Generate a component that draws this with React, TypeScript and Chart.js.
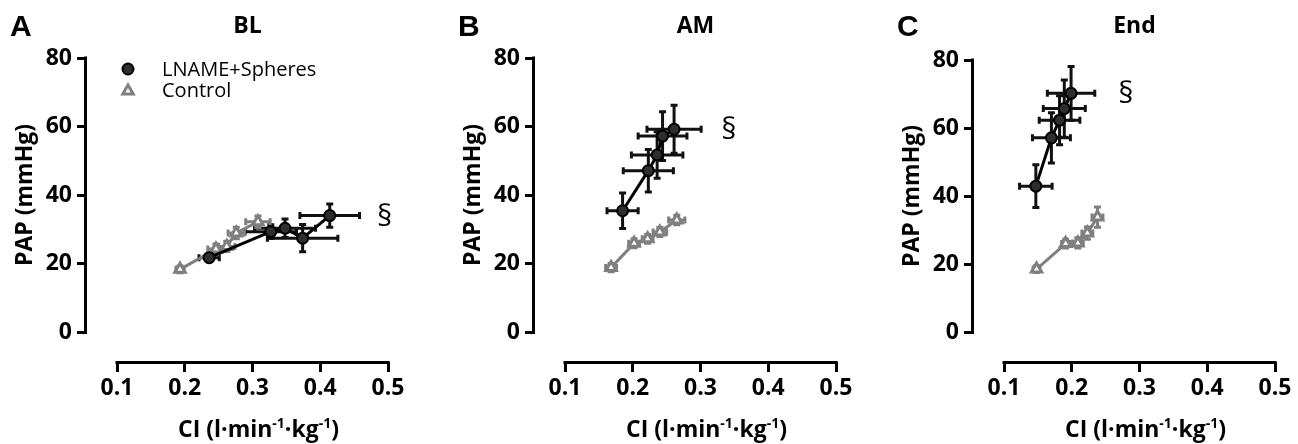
import React, { useEffect, useRef } from 'react';
import { Chart, registerables } from 'chart.js';

Chart.register(...registerables);

// ---------- data ----------
const X_TICKS = [0.1, 0.2, 0.3, 0.4, 0.5];
const Y_TICKS = [0, 20, 40, 60, 80];

const PANEL_LETTERS = ['A', 'B', 'C'];
const PANEL_TITLES = ['BL', 'AM', 'End'];
const SERIES_NAMES = ['LNAME+Spheres', 'Control'];
const SIG_MARK = '§';
const Y_TITLE = 'PAP (mmHg)';
const X_TITLE_PARTS = [
  { t: 'CI (l·min', sup: false },
  { t: '-1', sup: true },
  { t: '·kg', sup: false },
  { t: '-1', sup: true },
  { t: ')', sup: false },
];

// BL
const BL_LNAME_CI = [0.236, 0.327, 0.348, 0.374, 0.414];
const BL_LNAME_CI_ERR = [0.015, 0.038, 0.045, 0.052, 0.044];
const BL_LNAME_PAP = [21.7, 29.3, 30.3, 27.4, 34.0];
const BL_LNAME_PAP_ERR = [1.0, 2.0, 2.7, 4.0, 3.4];
const BL_CTRL_CI = [0.193, 0.246, 0.262, 0.276, 0.308];
const BL_CTRL_CI_ERR = [0.006, 0.012, 0.012, 0.012, 0.018];
const BL_CTRL_PAP = [18.3, 24.2, 25.0, 28.9, 32.2];
const BL_CTRL_PAP_ERR = [1.0, 1.5, 1.5, 1.7, 1.7];

// AM
const AM_LNAME_CI = [0.185, 0.223, 0.236, 0.244, 0.261];
const AM_LNAME_CI_ERR = [0.023, 0.037, 0.038, 0.036, 0.040];
const AM_LNAME_PAP = [35.4, 47.1, 51.7, 57.2, 59.2];
const AM_LNAME_PAP_ERR = [5.2, 6.2, 6.8, 7.1, 7.0];
const AM_CTRL_CI = [0.168, 0.202, 0.222, 0.240, 0.265];
const AM_CTRL_CI_ERR = [0.008, 0.008, 0.008, 0.010, 0.012];
const AM_CTRL_PAP = [18.8, 25.9, 27.2, 29.2, 32.7];
const AM_CTRL_PAP_ERR = [1.2, 1.3, 1.3, 1.3, 1.4];

// End
const END_LNAME_CI = [0.147, 0.170, 0.182, 0.189, 0.199];
const END_LNAME_CI_ERR = [0.024, 0.028, 0.030, 0.031, 0.035];
const END_LNAME_PAP = [42.9, 57.1, 62.3, 65.7, 70.2];
const END_LNAME_PAP_ERR = [6.3, 7.4, 7.2, 8.4, 7.9];
const END_CTRL_CI = [0.148, 0.191, 0.209, 0.223, 0.238];
const END_CTRL_CI_ERR = [0.005, 0.006, 0.008, 0.008, 0.008];
const END_CTRL_PAP = [18.5, 26.0, 26.2, 29.1, 33.8];
const END_CTRL_PAP_ERR = [1.0, 1.3, 1.5, 1.8, 3.0];

// ---------- layout / style ----------
const FONT = "'Open Sans', 'DejaVu Sans', sans-serif";
const H = 444;
const Y_AXIS_X = 87; // y-axis line x inside each canvas
const X_START_GAP = 30; // gap between y-axis line and first x tick
const PLOT_W = 301; // y-axis line -> last x tick
const X_AXIS_Y = 362;
const ZERO_Y = 332;
const BLACK = '#000000';
const DARK_FILL = '#2e2e2e';
const GREY = '#7f7f7f';

type Panel = {
  idx: number;
  left: number;
  width: number;
  top: number;
  legend: boolean;
  ln: { ci: number[]; ciErr: number[]; pap: number[]; papErr: number[] };
  ct: { ci: number[]; ciErr: number[]; pap: number[]; papErr: number[] };
};

const PANELS: Panel[] = [
  {
    idx: 0, left: 0, width: 440, top: 58, legend: true,
    ln: { ci: BL_LNAME_CI, ciErr: BL_LNAME_CI_ERR, pap: BL_LNAME_PAP, papErr: BL_LNAME_PAP_ERR },
    ct: { ci: BL_CTRL_CI, ciErr: BL_CTRL_CI_ERR, pap: BL_CTRL_PAP, papErr: BL_CTRL_PAP_ERR },
  },
  {
    idx: 1, left: 448, width: 440, top: 58, legend: false,
    ln: { ci: AM_LNAME_CI, ciErr: AM_LNAME_CI_ERR, pap: AM_LNAME_PAP, papErr: AM_LNAME_PAP_ERR },
    ct: { ci: AM_CTRL_CI, ciErr: AM_CTRL_CI_ERR, pap: AM_CTRL_PAP, papErr: AM_CTRL_PAP_ERR },
  },
  {
    idx: 2, left: 887, width: 411, top: 60, legend: false,
    ln: { ci: END_LNAME_CI, ciErr: END_LNAME_CI_ERR, pap: END_LNAME_PAP, papErr: END_LNAME_PAP_ERR },
    ct: { ci: END_CTRL_CI, ciErr: END_CTRL_CI_ERR, pap: END_CTRL_PAP, papErr: END_CTRL_PAP_ERR },
  },
];

const zip = (xs: number[], ys: number[]) => xs.map((x, i) => ({ x, y: ys[i] }));

// ---------- plugins ----------
const errorBarPlugin = {
  id: 'errorBars',
  beforeDatasetsDraw(chart: any) {
    const { ctx } = chart;
    const xs = chart.scales.x;
    const ys = chart.scales.y;
    chart.data.datasets.forEach((ds: any) => {
      if (!ds.xErr) return;
      ctx.save();
      ctx.strokeStyle = ds.errorColor;
      ctx.lineWidth = ds.errorWidth;
      ctx.lineCap = 'butt';
      const c = ds.errorCap;
      ds.data.forEach((pt: any, j: number) => {
        const cx = xs.getPixelForValue(pt.x);
        const cy = ys.getPixelForValue(pt.y);
        const x0 = xs.getPixelForValue(pt.x - ds.xErr[j]);
        const x1 = xs.getPixelForValue(pt.x + ds.xErr[j]);
        const y0 = ys.getPixelForValue(pt.y - ds.yErr[j]);
        const y1 = ys.getPixelForValue(pt.y + ds.yErr[j]);
        ctx.beginPath();
        ctx.moveTo(x0, cy); ctx.lineTo(x1, cy);
        ctx.moveTo(x0, cy - c); ctx.lineTo(x0, cy + c);
        ctx.moveTo(x1, cy - c); ctx.lineTo(x1, cy + c);
        ctx.moveTo(cx, y0); ctx.lineTo(cx, y1);
        ctx.moveTo(cx - c, y0); ctx.lineTo(cx + c, y0);
        ctx.moveTo(cx - c, y1); ctx.lineTo(cx + c, y1);
        ctx.stroke();
      });
      ctx.restore();
    });
  },
};

const decorPlugin = {
  id: 'decor',
  afterDraw(chart: any, _args: any, o: any) {
    const { ctx, chartArea } = chart;
    const xs = chart.scales.x;
    const ys = chart.scales.y;
    const xa = xs.getPixelForValue(X_TICKS[0]);
    const xb = xs.getPixelForValue(X_TICKS[X_TICKS.length - 1]);
    const ya = ys.getPixelForValue(Y_TICKS[0]);
    const yb = ys.getPixelForValue(Y_TICKS[Y_TICKS.length - 1]);
    const axX = chartArea.left;
    const axY = chartArea.bottom;

    ctx.save();
    // detached axis lines
    ctx.strokeStyle = BLACK;
    ctx.lineWidth = 3;
    ctx.lineCap = 'square';
    ctx.beginPath();
    ctx.moveTo(xa, axY + 0.5); ctx.lineTo(xb, axY + 0.5);
    ctx.moveTo(axX - 1.5, ya); ctx.lineTo(axX - 1.5, yb);
    ctx.stroke();

    ctx.fillStyle = BLACK;
    ctx.textAlign = 'left';
    ctx.textBaseline = 'alphabetic';

    // panel letter
    ctx.font = `bold 30px 'Liberation Sans', Arial, sans-serif`;
    ctx.fillText(o.letter, axX - 77, 36);

    // panel title
    ctx.font = `bold 23px ${FONT}`;
    ctx.textAlign = 'center';
    ctx.fillText(o.title, (xa + xb) / 2 - 5, 33);

    // y title
    ctx.save();
    ctx.translate(axX - 55, (ya + yb) / 2);
    ctx.rotate(-Math.PI / 2);
    ctx.font = `bold 23px ${FONT}`;
    ctx.textAlign = 'center';
    ctx.fillText(Y_TITLE, 0, 0);
    ctx.restore();

    // x title with superscripts
    const base = `bold 23px ${FONT}`;
    const sup = `bold 14px ${FONT}`;
    let total = 0;
    X_TITLE_PARTS.forEach((p) => {
      ctx.font = p.sup ? sup : base;
      total += ctx.measureText(p.t).width;
    });
    let cx = (xa + xb) / 2 + 6 - total / 2;
    ctx.textAlign = 'left';
    X_TITLE_PARTS.forEach((p) => {
      ctx.font = p.sup ? sup : base;
      ctx.fillText(p.t, cx, p.sup ? 428 : 437);
      cx += ctx.measureText(p.t).width;
    });

    // significance mark next to the last LNAME point
    const ln = chart.data.datasets[0].data;
    const last = ln[ln.length - 1];
    ctx.font = `30px ${FONT}`;
    ctx.textAlign = 'center';
    ctx.fillText(SIG_MARK, xs.getPixelForValue(last.x) + 55, ys.getPixelForValue(last.y) + 10);

    // legend
    if (o.legend) {
      const ds = chart.data.datasets;
      const mx = axX + 41;
      const rows = [69, 90];
      // circle
      ctx.beginPath();
      ctx.arc(mx, rows[0], ds[0].pointRadius, 0, Math.PI * 2);
      ctx.fillStyle = ds[0].pointBackgroundColor;
      ctx.fill();
      ctx.lineWidth = ds[0].pointBorderWidth;
      ctx.strokeStyle = ds[0].pointBorderColor;
      ctx.stroke();
      // triangle
      const r = ds[1].pointRadius;
      ctx.beginPath();
      for (let k = 0; k < 3; k++) {
        const a = (k * 2 * Math.PI) / 3;
        const px = mx + Math.sin(a) * r;
        const py = rows[1] + 1 - Math.cos(a) * r;
        if (k === 0) ctx.moveTo(px, py); else ctx.lineTo(px, py);
      }
      ctx.closePath();
      ctx.fillStyle = ds[1].pointBackgroundColor;
      ctx.fill();
      ctx.lineWidth = ds[1].pointBorderWidth;
      ctx.strokeStyle = ds[1].pointBorderColor;
      ctx.lineJoin = 'miter';
      ctx.stroke();

      ctx.fillStyle = BLACK;
      ctx.font = `20px ${FONT}`;
      ctx.textAlign = 'left';
      ctx.fillText(ds[0].label, axX + 75, rows[0] + 7);
      ctx.fillText(ds[1].label, axX + 75, rows[1] + 7);
    }
    ctx.restore();
  },
};

function makeConfig(p: Panel): any {
  const x0 = X_TICKS[0];
  const x1 = X_TICKS[X_TICKS.length - 1];
  const xPerPx = (x1 - x0) / (PLOT_W - X_START_GAP);
  const xMin = x0 - X_START_GAP * xPerPx;
  const y1 = Y_TICKS[Y_TICKS.length - 1];
  const yPerPx = y1 / (ZERO_Y - p.top);
  const yMin = Y_TICKS[0] - (X_AXIS_Y - ZERO_Y) * yPerPx;

  const tickFont = { family: FONT, size: 23, weight: 'bold' as const };
  return {
    type: 'scatter',
    data: {
      datasets: [
        {
          label: SERIES_NAMES[0],
          data: zip(p.ln.ci, p.ln.pap),
          xErr: p.ln.ciErr,
          yErr: p.ln.papErr,
          errorColor: '#111111',
          errorWidth: 3,
          errorCap: 3.5,
          showLine: true,
          borderColor: BLACK,
          borderWidth: 3,
          backgroundColor: DARK_FILL,
          pointStyle: 'circle',
          pointRadius: 5.5,
          pointBorderWidth: 2,
          pointBorderColor: BLACK,
          pointBackgroundColor: DARK_FILL,
        },
        {
          label: SERIES_NAMES[1],
          data: zip(p.ct.ci, p.ct.pap),
          xErr: p.ct.ciErr,
          yErr: p.ct.papErr,
          errorColor: GREY,
          errorWidth: 3,
          errorCap: 3.5,
          showLine: true,
          borderColor: GREY,
          borderWidth: 3,
          backgroundColor: '#ffffff',
          pointStyle: 'triangle',
          pointRadius: 6,
          pointBorderWidth: 3,
          pointBorderColor: GREY,
          pointBackgroundColor: '#ffffff',
        },
      ],
    },
    options: {
      animation: false,
      responsive: false,
      maintainAspectRatio: false,
      events: [],
      layout: {
        padding: { left: 0, top: p.top, right: p.width - Y_AXIS_X - PLOT_W, bottom: 0 },
      },
      plugins: {
        legend: { display: false },
        tooltip: { enabled: false },
        title: { display: false },
        decor: { letter: PANEL_LETTERS[p.idx], title: PANEL_TITLES[p.idx], legend: p.legend },
      },
      scales: {
        x: {
          type: 'linear',
          min: xMin,
          max: x1,
          afterBuildTicks: (s: any) => {
            s.ticks = X_TICKS.map((v) => ({ value: v }));
          },
          afterFit: (s: any) => {
            s.height = H - X_AXIS_Y;
          },
          border: { display: false },
          grid: {
            display: true,
            drawOnChartArea: false,
            drawTicks: true,
            tickLength: 10,
            lineWidth: 3,
            color: BLACK,
          },
          ticks: {
            padding: 3,
            color: BLACK,
            font: tickFont,
            autoSkip: false,
            maxRotation: 0,
            callback: (v: number) => v.toFixed(1),
          },
        },
        y: {
          type: 'linear',
          min: yMin,
          max: y1,
          afterBuildTicks: (s: any) => {
            s.ticks = Y_TICKS.map((v) => ({ value: v }));
          },
          afterFit: (s: any) => {
            s.width = Y_AXIS_X;
          },
          border: { display: false },
          grid: {
            display: true,
            drawOnChartArea: false,
            drawTicks: true,
            tickLength: 10,
            lineWidth: 3,
            color: BLACK,
          },
          ticks: {
            padding: 5,
            color: BLACK,
            font: tickFont,
            autoSkip: false,
            callback: (v: number) => String(v),
          },
        },
      },
    },
    plugins: [errorBarPlugin, decorPlugin],
  };
}

function PanelChart({ p }: { p: Panel }) {
  const ref = useRef<HTMLCanvasElement>(null);
  useEffect(() => {
    const chart = new Chart(ref.current as HTMLCanvasElement, makeConfig(p));
    return () => chart.destroy();
  }, [p]);
  return (
    <canvas
      ref={ref}
      width={p.width}
      height={H}
      style={{ position: 'absolute', left: p.left, top: 0, width: p.width, height: H }}
    />
  );
}

export default function App() {
  return (
    <div
      style={{
        position: 'absolute',
        left: 0,
        top: 0,
        width: 1298,
        height: H,
        overflow: 'hidden',
        background: '#ffffff',
      }}
    >
      {PANELS.map((p) => (
        <PanelChart key={p.idx} p={p} />
      ))}
    </div>
  );
}
